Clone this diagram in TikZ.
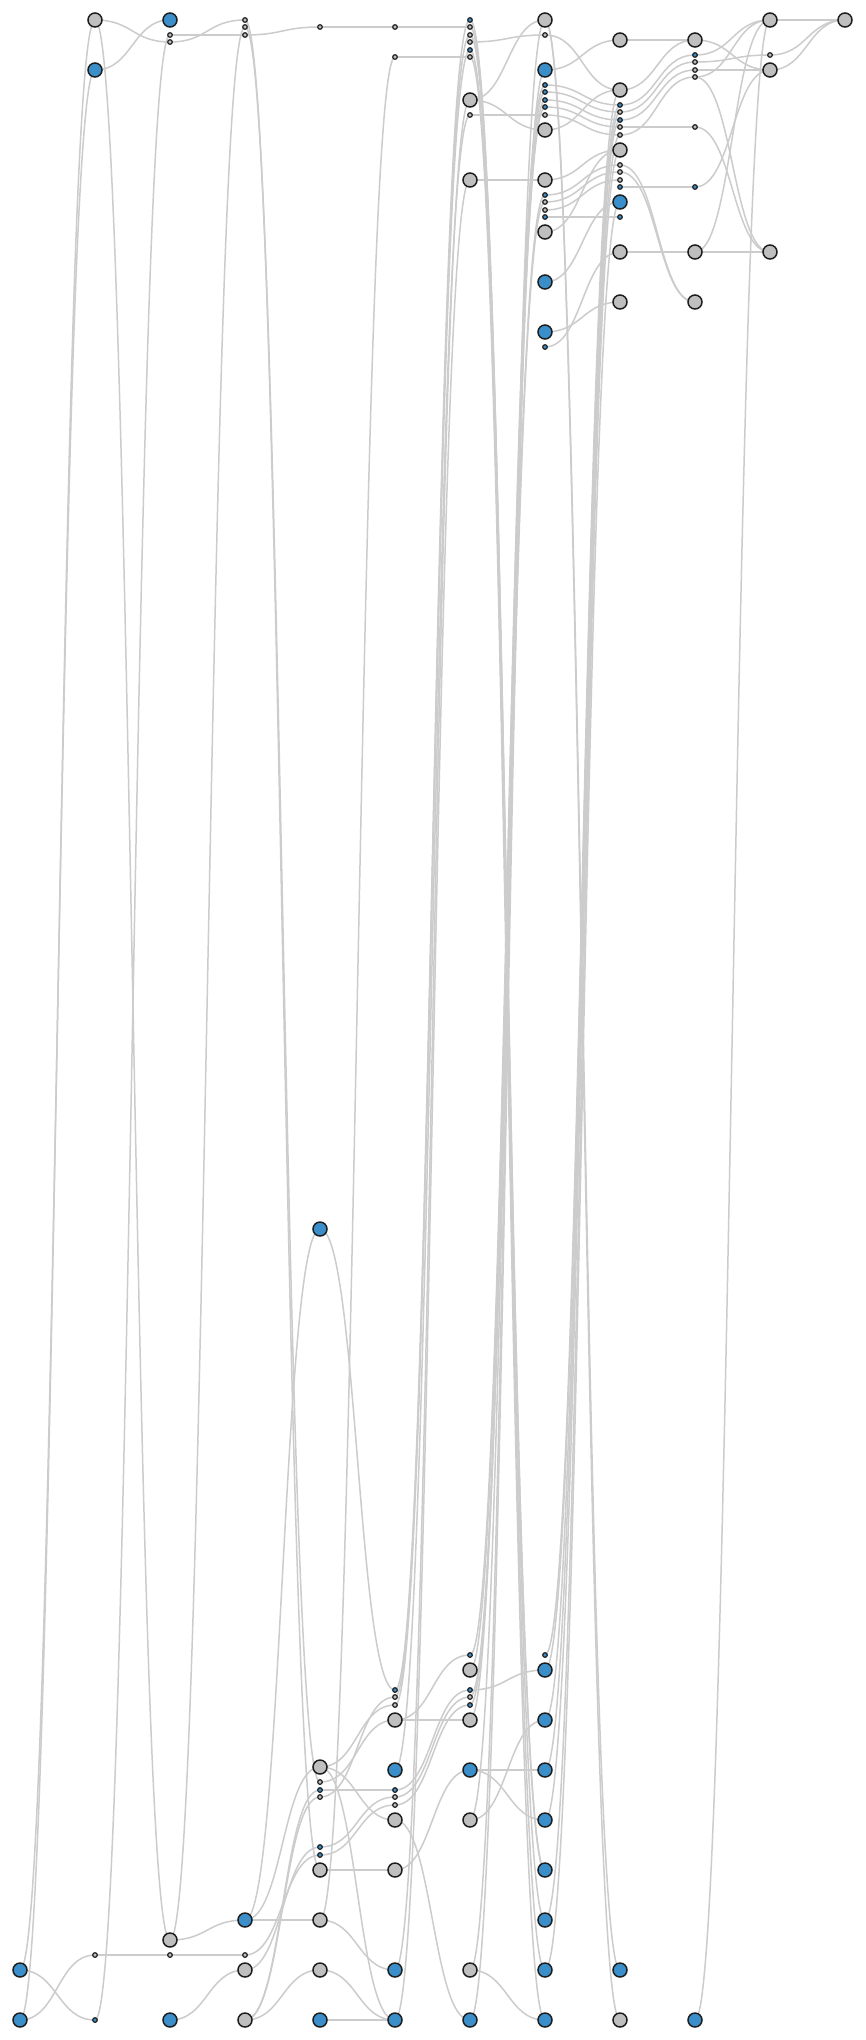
\documentclass[tikz,border=0pt]{standalone}
\usetikzlibrary{calc}
\definecolor{gfill}{HTML}{BFBFBF}
\definecolor{bfill}{HTML}{3A8FCA}
\definecolor{ecol}{HTML}{CCCCCC}
\definecolor{ncol}{HTML}{1E1E1E}
\pgfdeclarelayer{bgl}
\pgfsetlayers{bgl,main}
\tikzset{
  bgn/.style={circle,draw=ncol,line width=1.5pt,fill=gfill,minimum size=14pt,inner sep=0pt},
  bbn/.style={circle,draw=ncol,line width=1.5pt,fill=bfill,minimum size=14pt,inner sep=0pt},
  sgn/.style={circle,draw=ncol,line width=1.2pt,fill=gfill,minimum size=4.6pt,inner sep=0pt},
  sbn/.style={circle,draw=ncol,line width=1.2pt,fill=bfill,minimum size=4.6pt,inner sep=0pt},
  edge/.style={draw=ecol,line width=1.5pt}
}
\newcommand{\lk}[2]{\draw[edge] let \p1=(#1.center), \p2=(#2.center), \n1={0.5*\x1+0.5*\x2} in (\p1) .. controls (\n1,\y1) and (\n1,\y2) .. (\p2);}
\newcommand{\nd}[4]{\node[#1] (#2) at (#3,#4) {};}
\begin{document}
\begin{tikzpicture}[x=1pt,y=-1pt]
\useasboundingbox (0,0) rectangle (865,2040);
% column A x=20
\nd{bbn}{A1970}{20}{1970}
\nd{bbn}{A2020}{20}{2020}
% column B x=95
\nd{bgn}{B20}{95}{20}
\nd{bbn}{B70}{95}{70}
\nd{sgn}{B1955}{95}{1955}
\nd{sbn}{B2020}{95}{2020}
% column C x=170
\nd{bbn}{C20}{170}{20}
\nd{sgn}{C35}{170}{35}
\nd{sgn}{C42}{170}{42}
\nd{bgn}{C1940}{170}{1940}
\nd{sgn}{C1955}{170}{1955}
\nd{bbn}{C2020}{170}{2020}
% column D x=245
\nd{sgn}{D20}{245}{20}
\nd{sgn}{D27}{245}{27}
\nd{sgn}{D35}{245}{35}
\nd{bbn}{D1920}{245}{1920}
\nd{sgn}{D1955}{245}{1955}
\nd{bgn}{D1970}{245}{1970}
\nd{bgn}{D2020}{245}{2020}
% column E x=320
\nd{sgn}{E27}{320}{27}
\nd{bbn}{E1229}{320}{1229}
\nd{bgn}{E1767}{320}{1767}
\nd{sgn}{E1782}{320}{1782}
\nd{sbn}{E1790}{320}{1790}
\nd{sgn}{E1797}{320}{1797}
\nd{sbn}{E1847}{320}{1847}
\nd{sbn}{E1855}{320}{1855}
\nd{bgn}{E1870}{320}{1870}
\nd{bgn}{E1920}{320}{1920}
\nd{bgn}{E1970}{320}{1970}
\nd{bbn}{E2020}{320}{2020}
% column F x=395
\nd{sgn}{F27}{395}{27}
\nd{sgn}{F57}{395}{57}
\nd{sbn}{F1690}{395}{1690}
\nd{sgn}{F1697}{395}{1697}
\nd{sgn}{F1705}{395}{1705}
\nd{bgn}{F1720}{395}{1720}
\nd{bbn}{F1770}{395}{1770}
\nd{sbn}{F1790}{395}{1790}
\nd{sgn}{F1797}{395}{1797}
\nd{sgn}{F1805}{395}{1805}
\nd{bgn}{F1820}{395}{1820}
\nd{bgn}{F1870}{395}{1870}
\nd{bbn}{F1970}{395}{1970}
\nd{bbn}{F2020}{395}{2020}
% column G x=470
\nd{sbn}{G20}{470}{20}
\nd{sgn}{G27}{470}{27}
\nd{sgn}{G35}{470}{35}
\nd{sgn}{G42}{470}{42}
\nd{sbn}{G50}{470}{50}
\nd{sgn}{G57}{470}{57}
\nd{bgn}{G100}{470}{100}
\nd{sgn}{G115}{470}{115}
\nd{bgn}{G180}{470}{180}
\nd{sbn}{G1655}{470}{1655}
\nd{bgn}{G1670}{470}{1670}
\nd{sbn}{G1690}{470}{1690}
\nd{sgn}{G1697}{470}{1697}
\nd{sbn}{G1705}{470}{1705}
\nd{bgn}{G1720}{470}{1720}
\nd{bbn}{G1770}{470}{1770}
\nd{bgn}{G1820}{470}{1820}
\nd{bgn}{G1970}{470}{1970}
\nd{bbn}{G2020}{470}{2020}
% column H x=545
\nd{bgn}{H20}{545}{20}
\nd{sgn}{H35}{545}{35}
\nd{bbn}{H70}{545}{70}
\nd{sbn}{H85}{545}{85}
\nd{sbn}{H92}{545}{92}
\nd{sbn}{H100}{545}{100}
\nd{sbn}{H107}{545}{107}
\nd{sgn}{H115}{545}{115}
\nd{bgn}{H130}{545}{130}
\nd{bgn}{H180}{545}{180}
\nd{sbn}{H195}{545}{195}
\nd{sgn}{H202}{545}{202}
\nd{sgn}{H210}{545}{210}
\nd{sbn}{H217}{545}{217}
\nd{bgn}{H232}{545}{232}
\nd{bbn}{H282}{545}{282}
\nd{bbn}{H332}{545}{332}
\nd{sbn}{H347}{545}{347}
\nd{sbn}{H1655}{545}{1655}
\nd{bbn}{H1670}{545}{1670}
\nd{bbn}{H1720}{545}{1720}
\nd{bbn}{H1770}{545}{1770}
\nd{bbn}{H1820}{545}{1820}
\nd{bbn}{H1870}{545}{1870}
\nd{bbn}{H1920}{545}{1920}
\nd{bbn}{H1970}{545}{1970}
\nd{bbn}{H2020}{545}{2020}
% column I x=620
\nd{bgn}{I40}{620}{40}
\nd{bgn}{I90}{620}{90}
\nd{sbn}{I105}{620}{105}
\nd{sgn}{I112}{620}{112}
\nd{sbn}{I120}{620}{120}
\nd{sgn}{I127}{620}{127}
\nd{sgn}{I135}{620}{135}
\nd{bgn}{I150}{620}{150}
\nd{sgn}{I165}{620}{165}
\nd{sgn}{I172}{620}{172}
\nd{sgn}{I180}{620}{180}
\nd{sbn}{I187}{620}{187}
\nd{bbn}{I202}{620}{202}
\nd{sbn}{I217}{620}{217}
\nd{bgn}{I252}{620}{252}
\nd{bgn}{I302}{620}{302}
\nd{bbn}{I1970}{620}{1970}
\nd{bgn}{I2020}{620}{2020}
% column J x=695
\nd{bgn}{J40}{695}{40}
\nd{sbn}{J55}{695}{55}
\nd{sgn}{J62}{695}{62}
\nd{sgn}{J70}{695}{70}
\nd{sgn}{J77}{695}{77}
\nd{sgn}{J127}{695}{127}
\nd{sbn}{J187}{695}{187}
\nd{bgn}{J252}{695}{252}
\nd{bgn}{J302}{695}{302}
\nd{bbn}{J2020}{695}{2020}
% column K x=770
\nd{bgn}{K20}{770}{20}
\nd{sgn}{K55}{770}{55}
\nd{bgn}{K70}{770}{70}
\nd{bgn}{K252}{770}{252}
% column L x=845
\nd{bgn}{L20}{845}{20}
\begin{pgfonlayer}{bgl}
\fill[white] (0,0) rectangle (865,2040);
% A-B
\lk{A1970}{B70}\lk{A2020}{B20}\lk{A1970}{B2020}\lk{A2020}{B1955}
% B-C
\lk{B20}{C42}\lk{B70}{C20}\lk{B20}{C1940}\lk{B2020}{C35}\lk{B1955}{C1955}
% C-D
\lk{C35}{D35}\lk{C42}{D20}\lk{C1940}{D27}\lk{C1940}{D1920}\lk{C1955}{D1955}\lk{C2020}{D1970}
% D-E
\lk{D35}{E27}\lk{D20}{E1870}\lk{D27}{E1782}
\lk{D1920}{E1920}\lk{D1920}{E1229}\lk{D1920}{E1767}\lk{D1955}{E1855}\lk{D1970}{E1847}
\lk{D2020}{E1790}\lk{D2020}{E1797}\lk{D2020}{E1970}
% E-F
\lk{E27}{F27}\lk{F57}{E1920}\lk{E1229}{F1690}\lk{E1790}{F1790}\lk{E1870}{F1870}
\lk{E1767}{F1820}\lk{E1767}{F2020}\lk{E1920}{F1970}\lk{E1970}{F2020}\lk{E2020}{F2020}
\lk{E1782}{F1720}\lk{E1797}{F1697}\lk{E1767}{F1705}\lk{E1847}{F1797}\lk{E1855}{F1805}
% F-G
\lk{F27}{G27}\lk{F57}{G57}\lk{F1690}{G20}\lk{F1697}{G35}\lk{F1705}{G50}
\lk{F1720}{G1720}\lk{F1720}{G1655}\lk{F1790}{G1690}\lk{F1797}{G1697}\lk{F1805}{G1705}
\lk{F1820}{G2020}\lk{F1870}{G1770}\lk{F1970}{G100}\lk{F1770}{G115}\lk{F2020}{G180}
% G-H
\lk{G42}{H35}\lk{G100}{H20}\lk{G100}{H130}\lk{G115}{H115}\lk{G180}{H180}
\lk{G20}{H1920}\lk{G27}{H1870}\lk{G35}{H1870}\lk{G50}{H1970}\lk{G57}{H2020}
\lk{G1970}{H20}\lk{G2020}{H70}\lk{G1655}{H85}\lk{G1670}{H92}\lk{G1720}{H107}
\lk{G1697}{H195}\lk{G1705}{H202}\lk{G1820}{H100}
\lk{G1690}{H1670}\lk{G1770}{H1770}\lk{G1770}{H1820}\lk{G1820}{H1720}\lk{G1970}{H2020}
% H-I
\lk{H70}{I40}\lk{H130}{I90}\lk{H35}{I90}\lk{H85}{I105}\lk{H92}{I112}\lk{H100}{I120}
\lk{H107}{I127}\lk{H115}{I135}\lk{H180}{I150}\lk{H195}{I165}\lk{H202}{I172}\lk{H210}{I180}
\lk{H217}{I217}\lk{H232}{I150}\lk{H282}{I202}\lk{H332}{I302}\lk{H347}{I252}
\lk{H20}{I1970}\lk{H20}{I2020}
\lk{I90}{H1655}\lk{I105}{H1670}\lk{I120}{H1720}\lk{I135}{H1820}\lk{I150}{H1920}
\lk{I202}{H1970}\lk{I112}{H1770}
% I-J
\lk{I40}{J40}\lk{I90}{J40}\lk{I105}{J55}\lk{I112}{J62}\lk{I120}{J70}\lk{I127}{J127}
\lk{I135}{J77}\lk{I187}{J187}\lk{I252}{J252}\lk{I165}{J302}\lk{I172}{J302}
% J-K
\lk{J40}{K70}\lk{J55}{K20}\lk{J62}{K55}\lk{J70}{K70}\lk{J77}{K20}\lk{J127}{K252}
\lk{J187}{K70}\lk{J252}{K20}\lk{J2020}{K20}\lk{J77}{K252}\lk{J252}{K252}
% K-L
\lk{K20}{L20}\lk{K55}{L20}\lk{K70}{L20}
\end{pgfonlayer}
\end{tikzpicture}
\end{document}
